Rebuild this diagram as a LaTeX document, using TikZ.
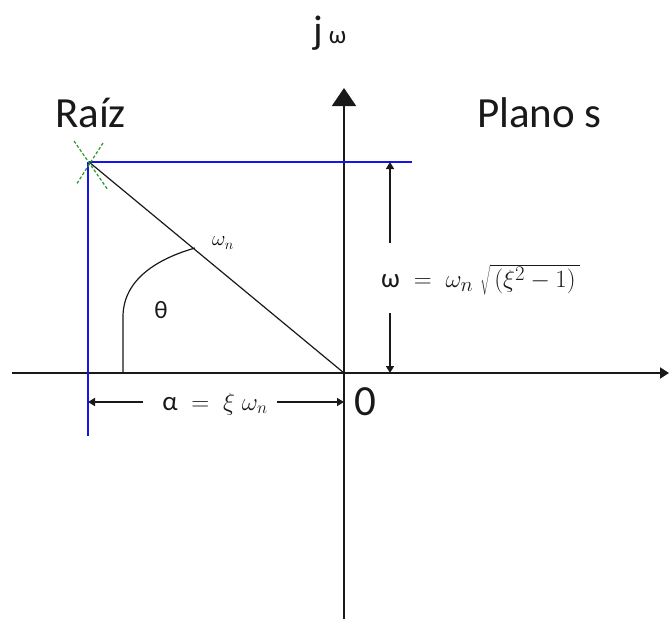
\documentclass[tikz,border=0pt]{standalone}
\usepackage{fontspec}
\setmainfont{Carlito}
\usetikzlibrary{arrows.meta,calc}
\definecolor{rootblue}{RGB}{20,20,235}
\definecolor{crossgreen}{RGB}{40,150,40}
\definecolor{inkblack}{RGB}{25,25,25}
\tikzset{
  axisline/.style={draw=inkblack, line width=2pt},
  blueline/.style={draw=rootblue, line width=1.8pt},
  thinline/.style={draw=inkblack, line width=1.2pt},
  dimline/.style={draw=inkblack, line width=1.6pt, -{Triangle[width=8pt,length=7pt]}},
  bigtext/.style={inner sep=0pt, font=\fontsize{43}{50}\selectfont, text=inkblack},
  midtext/.style={inner sep=0pt, font=\fontsize{25}{30}\selectfont, text=inkblack},
  formtext/.style={inner sep=0pt, font=\fontsize{27}{32}\selectfont, text=inkblack},
}
\begin{document}
\begin{tikzpicture}[x=1pt,y=-1pt]
\useasboundingbox (0,0) rectangle (670,619);
% coordinates
\coordinate (O) at (344,373);
\coordinate (R) at (89,162);
\coordinate (ytop) at (344,88);
\coordinate (ybot) at (344,619);
\coordinate (xleft) at (12,373);
\coordinate (xright) at (669,373);
\coordinate (bluehend) at (412,162);
\coordinate (bluevtop) at (88,162);
\coordinate (bluevend) at (88,436);
\coordinate (vtop) at (390,162);
\coordinate (vbot) at (390,373);
\coordinate (hleft) at (88,402);
\coordinate (hright) at (344,402);
\coordinate (arcstart) at (123,373);
\coordinate (arcmid) at (123,317);
\coordinate (arcend) at (195,248);
% axes
\draw[axisline, -{Triangle[width=24pt,length=18pt]}] (ybot) -- (ytop);
\draw[axisline, -{Triangle[width=11pt,length=9pt]}] (xleft) -- (xright);
% blue projection lines
\draw[blueline] (R) -- (bluehend);
\draw[blueline] (bluevtop) -- (bluevend);
% radial line
\draw[thinline] (R) -- (O);
% angle curve
\draw[thinline] (arcstart) -- (arcmid) .. controls (123,278) and (160,258) .. (arcend);
% root cross
\draw[crossgreen, line width=1.2pt, densely dashed] ($(R)+(-15,-21)$) -- ($(R)+(19,28)$);
\draw[crossgreen, line width=1.2pt, densely dashed] ($(R)+(14,-19)$) -- ($(R)+(-13,23)$);
% labels
\node[bigtext, anchor=base west] (raiz) at (55,127) {Raíz};
\node[bigtext, anchor=base west] (plano) at (477,127) {Plano s};
\node[bigtext, anchor=base west] (zero) at (354,415) {0};
\node[inner sep=0pt, text=inkblack, anchor=base west] (jw) at (313,43) {\fontsize{40}{46}\selectfont j\hspace{6pt}\fontsize{25}{30}\selectfont ω};
\node[midtext] (theta) at (161,310) {θ};
\node[inner sep=0pt, font=\fontsize{20}{24}\selectfont] (wn) at (223,243) {$\omega_n$};
\node[formtext, font=\fontsize{30}{36}\selectfont, anchor=west] (wform) at (381,280) {$\mbox{\fontsize{27}{32}\selectfont ω} \;=\; \omega_n\;\sqrt{\,(\xi^2 - 1)\,}$};
\node[formtext] (aform) at (215,404) {$\mbox{α} \;=\; \xi\;\omega_n$};
% dimension arrows
\coordinate (vupstart) at (390,243);
\coordinate (vdownstart) at (390,313);
\coordinate (hlstart) at (143,402);
\coordinate (hrstart) at (277,402);
\draw[dimline] (vupstart) -- (vtop);
\draw[dimline] (vdownstart) -- (vbot);
\draw[dimline] (hlstart) -- (hleft);
\draw[dimline] (hrstart) -- (hright);
\end{tikzpicture}
\end{document}
